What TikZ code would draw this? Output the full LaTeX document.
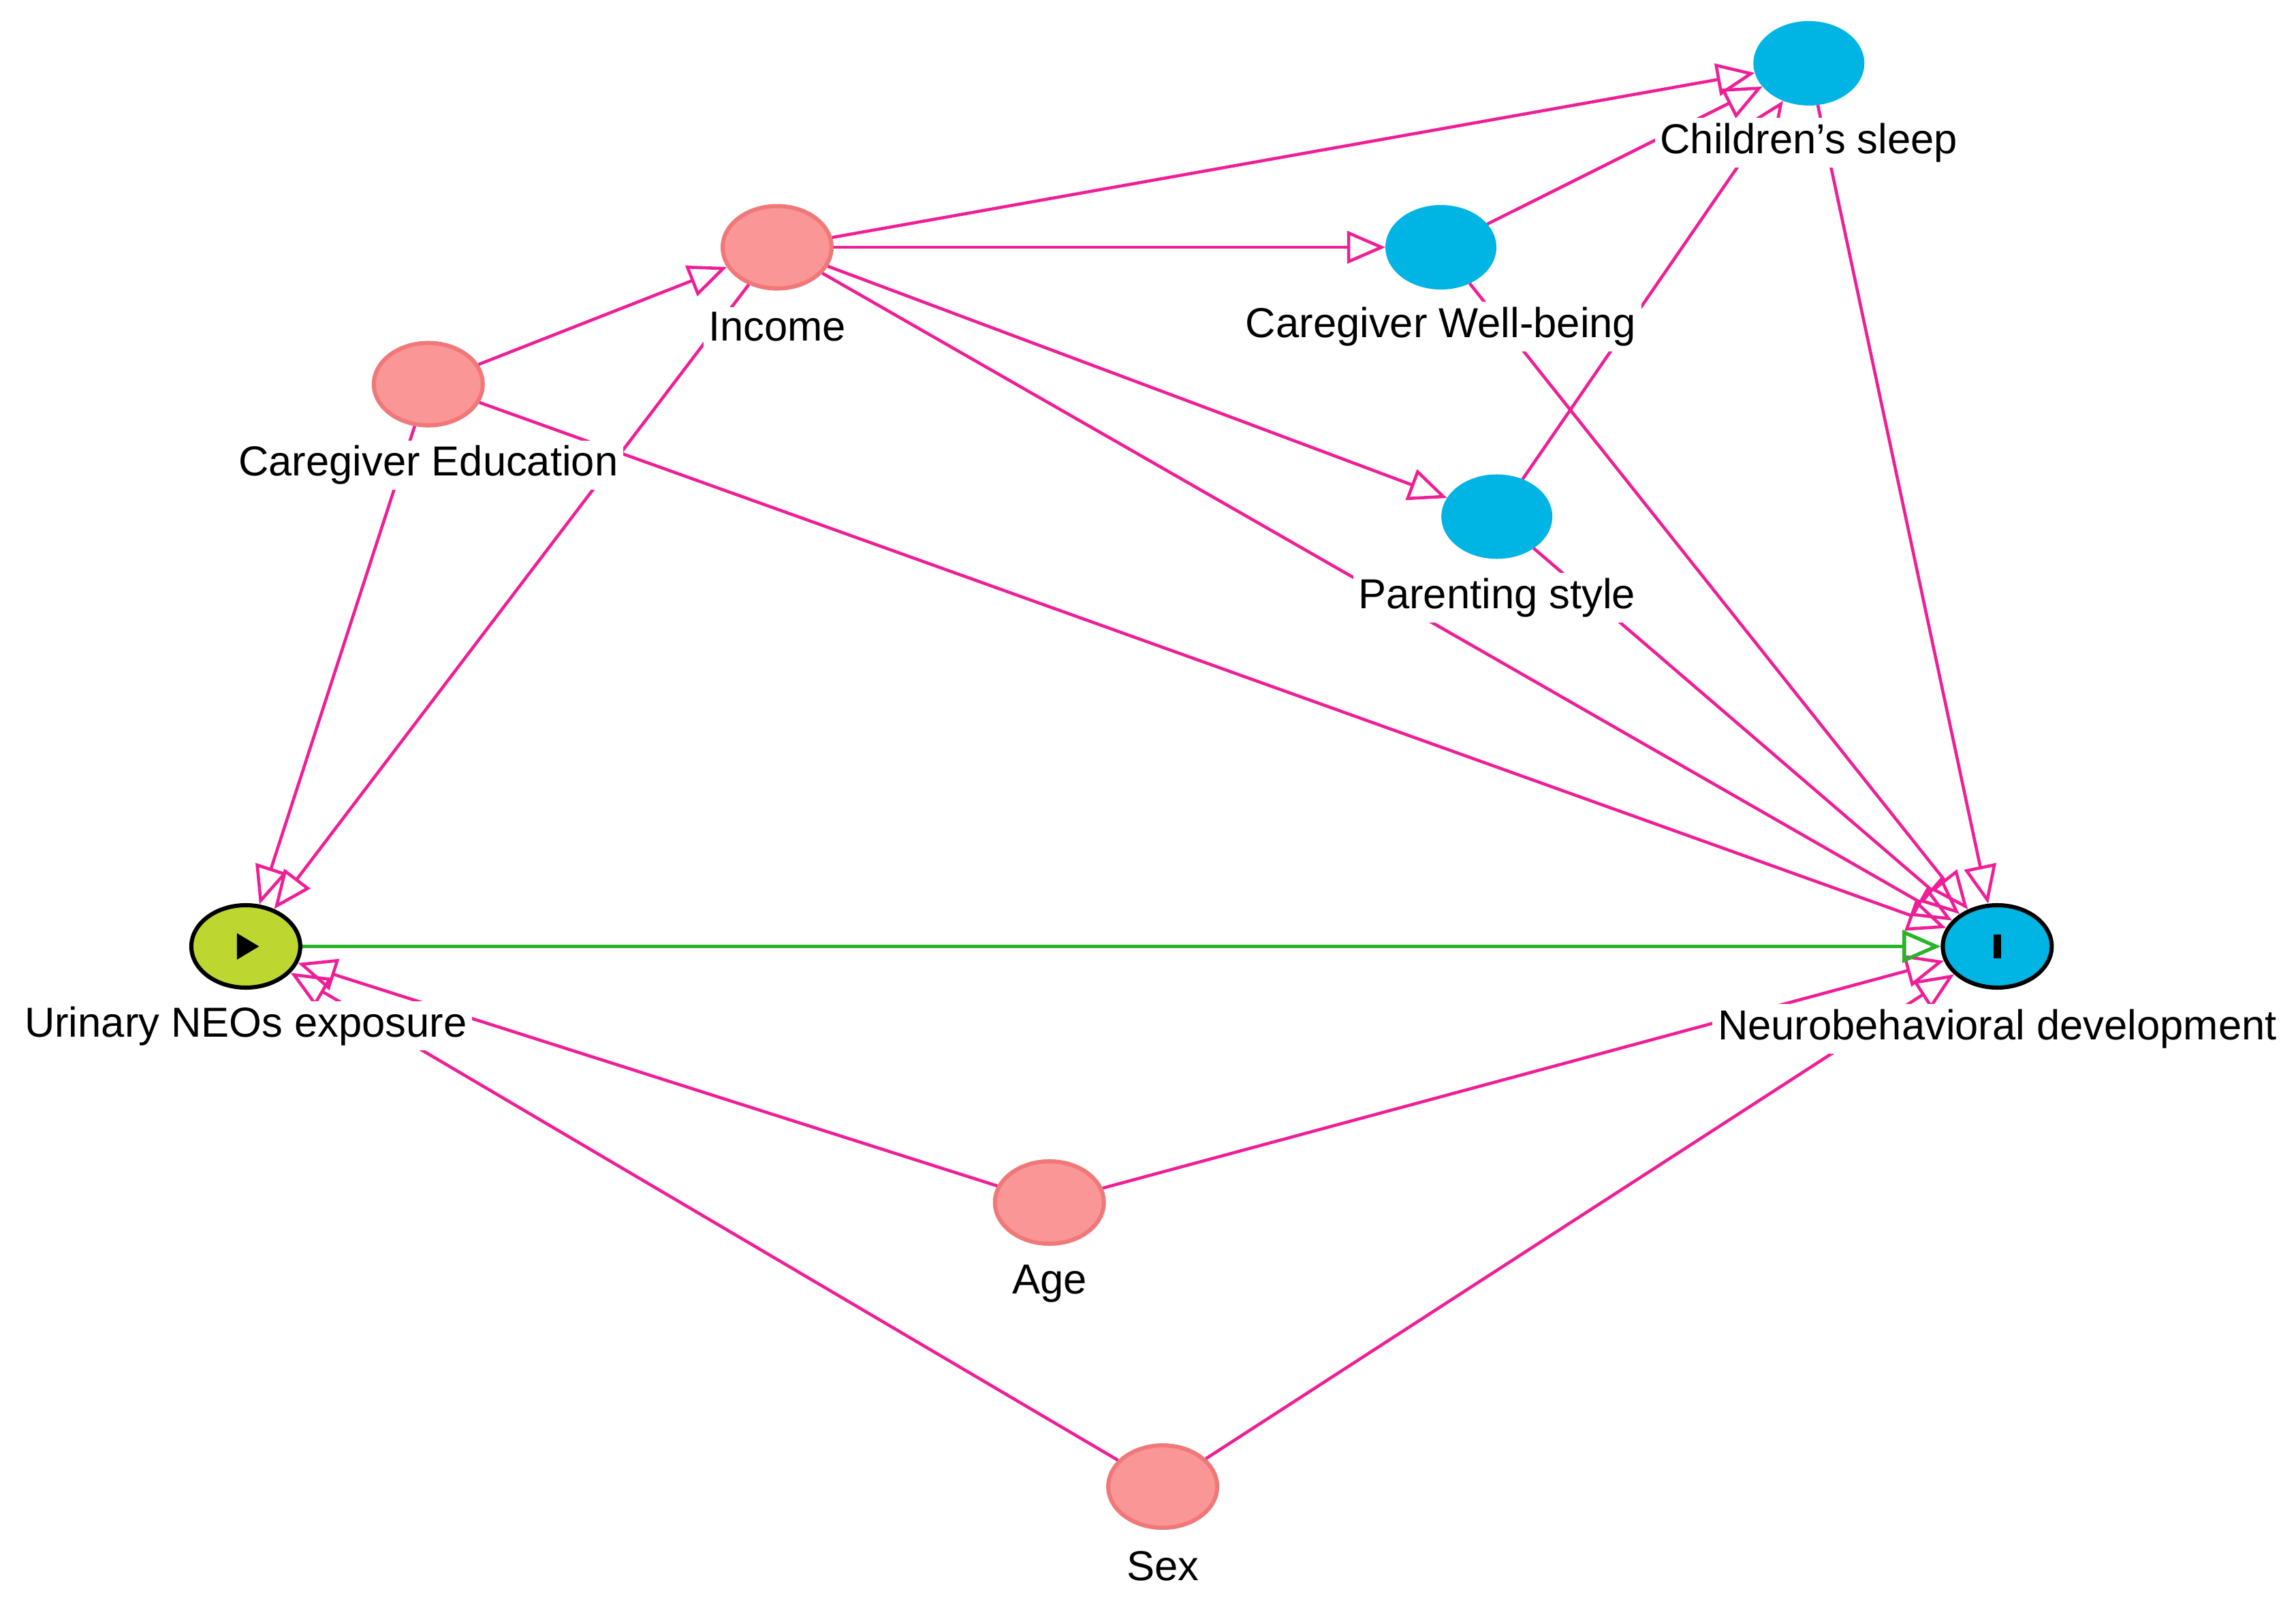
\documentclass[tikz,border=0pt]{standalone}
\usepackage{fontspec}
\setmainfont{Liberation Sans}
\usetikzlibrary{arrows.meta,shapes.geometric}
\definecolor{edgepink}{RGB}{240,30,150}
\definecolor{adjpink}{RGB}{250,150,150}
\definecolor{adjborder}{RGB}{240,120,120}
\definecolor{medblue}{RGB}{0,180,228}
\definecolor{expgreen}{RGB}{190,214,48}
\definecolor{edgegreen}{RGB}{40,180,40}
\tikzset{
  var/.style={ellipse, minimum width=0.74cm, minimum height=0.56cm, inner sep=0pt},
  adj/.style={var, fill=adjpink, draw=adjborder, thick},
  med/.style={var, fill=medblue, draw=medblue},
  lbl/.style={fill=white, inner sep=1pt, font=\fontsize{8.1}{9.5}\selectfont},
  arr/.style={draw=edgepink, line width=0.6pt, -{Triangle[open, length=2.6mm, width=2.2mm]}},
}
\begin{document}
\begin{tikzpicture}
\useasboundingbox (0,0) rectangle (15.6,-10.88);

\node[med] (sleep) at (12.29,-0.43) {};
\node[adj] (income) at (5.28,-1.68) {};
\node[med] (well) at (9.79,-1.68) {};
\node[adj] (edu) at (2.91,-2.61) {};
\node[med] (style) at (10.17,-3.51) {};
\node[var, fill=expgreen, draw=black, thick] (neo) at (1.67,-6.43) {};
\node[var, fill=medblue, draw=black, thick] (dev) at (13.57,-6.43) {};
\node[adj] (age) at (7.13,-8.17) {};
\node[adj] (sex) at (7.90,-10.10) {};

\fill ([xshift=-0.06cm]neo.center) -- ++(0,0.09) -- ++(0.15,-0.09) -- ++(-0.15,-0.09) -- cycle;
\fill ([xshift=-0.025cm,yshift=-0.08cm]dev.center) rectangle ++(0.05,0.16);

% Draw causal edges.
\draw[arr] (income) -- (sleep);
\draw[arr] (income) -- (well);
\draw[arr] (income) -- (style);
\draw[arr] (income) -- (dev);
\draw[arr] (income) -- (neo);
\draw[arr] (edu) -- (income);
\draw[arr] (edu) -- (neo);
\draw[arr] (edu) -- (dev);
\draw[arr] (well) -- (sleep);
\draw[arr] (style) -- (sleep);
\draw[arr] (well) -- (dev);
\draw[arr] (style) -- (dev);
\draw[arr] (sleep) -- (dev);
\draw[arr] (age) -- (neo);
\draw[arr] (age) -- (dev);
\draw[arr] (sex) -- (neo);
\draw[arr] (sex) -- (dev);
\draw[draw=edgegreen, line width=0.7pt, -{Triangle[open, length=2.6mm, width=2.2mm]}] (neo) -- (dev);

% Labels.
\node[lbl] (sleepl) at (12.29,-0.97) {Children's sleep};
\node[lbl] (incomel) at (5.28,-2.22) {Income};
\node[lbl] (welll) at (9.79,-2.22) {Caregiver Well-being};
\node[lbl] (edul) at (2.91,-3.16) {Caregiver Education};
\node[lbl] (stylel) at (10.17,-4.06) {Parenting style};
\node[lbl] (neol) at (1.67,-6.97) {Urinary NEOs exposure};
\node[lbl] (devl) at (13.57,-6.99) {Neurobehavioral development};
\node[lbl] (agel) at (7.13,-8.72) {Age};
\node[lbl] (sexl) at (7.90,-10.64) {Sex};
\end{tikzpicture}
\end{document}
